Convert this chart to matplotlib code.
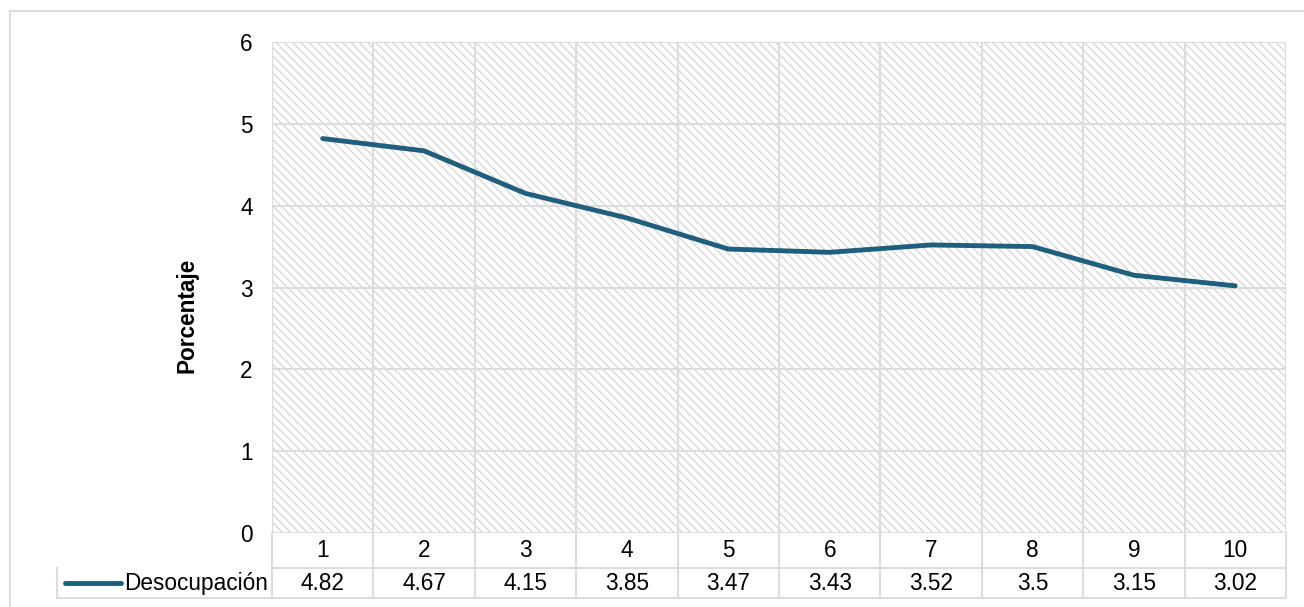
"""
Desocupación por periodo, con tabla de datos bajo el eje.
"""

import matplotlib.pyplot as plt
from matplotlib.patches import Rectangle
from matplotlib.lines import Line2D
from matplotlib.transforms import blended_transform_factory

categorias = ['1', '2', '3', '4', '5', '6', '7', '8', '9', '10']
desocupacion = [4.82, 4.67, 4.15, 3.85, 3.47, 3.43, 3.52, 3.5, 3.15, 3.02]
etiquetas_valor = ['4.82', '4.67', '4.15', '3.85', '3.47', '3.43', '3.52', '3.5', '3.15', '3.02']
serie = 'Desocupación'

plt.rcParams['font.family'] = ['Liberation Sans', 'DejaVu Sans']
plt.rcParams['hatch.linewidth'] = 0.9

COLOR_LINEA = '#1d5f7c'
GRIS = '#dcdcdc'
FS = 16.3

fig = plt.figure(figsize=(13.04, 6.07), dpi=100)
ax = fig.add_axes([0.2086, 0.1219, 0.7776, 0.8089])

n = len(categorias)
x = list(range(1, n + 1))

# fondo rayado
ax.add_patch(Rectangle((0, 0), 1, 1, transform=ax.transAxes, facecolor='white',
                       edgecolor='#d4d4d4', hatch='\\\\\\\\', linewidth=0, zorder=0))

ax.plot(x, desocupacion, color=COLOR_LINEA, linewidth=3.5, solid_joinstyle='round',
        solid_capstyle='round', zorder=3)

ax.set_xlim(0.5, n + 0.5)
ax.set_ylim(0, 6)
ax.set_yticks(range(0, 7))
ax.set_xticks([])
ax.tick_params(axis='y', length=0, pad=14, labelsize=FS)
for v in range(0, 7):
    ax.axhline(v, color=GRIS, linewidth=1.5, zorder=1)
for i in range(n + 1):
    ax.axvline(0.5 + i, color=GRIS, linewidth=1.5, zorder=1)
for s in ax.spines.values():
    s.set_visible(False)

ax.set_ylabel('Porcentaje', fontsize=FS, fontweight='bold', labelpad=30)
ax.yaxis.label.set_y(0.444)

# tabla de datos
tr = blended_transform_factory(ax.transData, ax.transAxes)
alto1 = 35 / 491
alto2 = 65 / 491
x_izq = 0.5 - (272 - 57) / 101.4


def linea(xs, ys):
    ax.add_line(Line2D(xs, ys, transform=tr, color=GRIS, linewidth=1.5, clip_on=False))


linea([0.5, n + 0.5], [-alto1, -alto1])
linea([x_izq, n + 0.5], [-alto2, -alto2])
linea([x_izq, x_izq], [-alto1, -alto2])
for i in range(n + 1):
    linea([0.5 + i, 0.5 + i], [0, -alto2])

for xi, c, v in zip(x, categorias, etiquetas_valor):
    ax.text(xi, -alto1 / 2, c, transform=tr, ha='center', va='center', fontsize=FS)
    ax.text(xi, -(alto1 + alto2) / 2, v, transform=tr, ha='center', va='center', fontsize=FS)

y_ley = -(alto1 + alto2) / 2
px = 1 / 101.4
ax.add_line(Line2D([x_izq + 8 * px, x_izq + 64 * px], [y_ley, y_ley], transform=tr,
                   color=COLOR_LINEA, linewidth=3.5, solid_capstyle='round', clip_on=False))
ax.text(0.5 - 4 * px, y_ley, serie, transform=tr, ha='right', va='center', fontsize=FS)

# borde exterior (solo se ven lados izquierdo y superior)
fig.patches.append(Rectangle((10 / 1304, -10 / 607), 1310 / 1304, 606 / 607,
                             transform=fig.transFigure, fill=False, edgecolor=GRIS,
                             linewidth=1.5))

fig.savefig('out.png', dpi=100)
